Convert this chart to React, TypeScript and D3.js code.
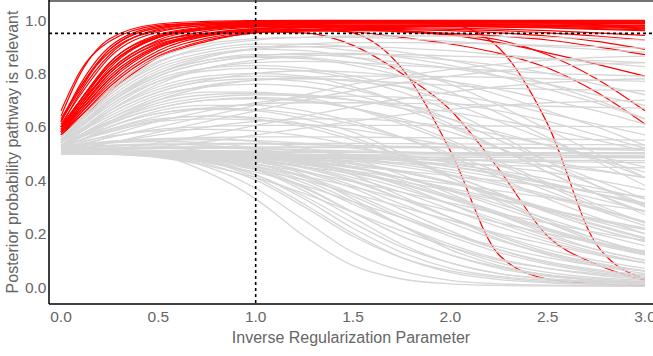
import React from "react";
import * as d3 from "d3";

const xValues = [0, 0.1, 0.25, 0.5, 0.75, 1, 1.25, 1.5, 1.75, 2, 2.25, 2.5, 2.75, 3];
const xTicks = [0, 0.5, 1, 1.5, 2, 2.5, 3];
const yTicks = [0, 0.2, 0.4, 0.6, 0.8, 1];
const xThreshold = 1;
const yThreshold = 0.95;

// pathways judged relevant (posterior > 0.95 at x = 1)
const relevantSeries = [
  [0.64, 0.8, 0.93, 0.985, 0.995, 0.998, 0.999, 0.999, 0.999, 0.999, 0.999, 0.999, 0.999, 0.999],
  [0.66, 0.81, 0.92, 0.98, 0.99, 0.995, 0.997, 0.998, 0.998, 0.998, 0.998, 0.998, 0.998, 0.998],
  [0.62, 0.76, 0.9, 0.975, 0.99, 0.995, 0.996, 0.997, 0.997, 0.997, 0.997, 0.997, 0.997, 0.997],
  [0.6, 0.73, 0.87, 0.965, 0.985, 0.99, 0.993, 0.994, 0.994, 0.994, 0.993, 0.993, 0.992, 0.992],
  [0.61, 0.72, 0.86, 0.955, 0.98, 0.988, 0.99, 0.99, 0.99, 0.99, 0.99, 0.99, 0.989, 0.988],
  [0.59, 0.7, 0.84, 0.945, 0.975, 0.985, 0.988, 0.99, 0.99, 0.99, 0.989, 0.988, 0.987, 0.985],
  [0.58, 0.68, 0.82, 0.935, 0.97, 0.982, 0.986, 0.988, 0.988, 0.987, 0.986, 0.985, 0.983, 0.98],
  [0.6, 0.69, 0.81, 0.925, 0.965, 0.978, 0.983, 0.985, 0.985, 0.984, 0.982, 0.98, 0.977, 0.974],
  [0.58, 0.67, 0.8, 0.915, 0.958, 0.973, 0.979, 0.981, 0.981, 0.98, 0.978, 0.975, 0.972, 0.968],
  [0.59, 0.67, 0.79, 0.905, 0.95, 0.968, 0.975, 0.978, 0.978, 0.977, 0.975, 0.972, 0.968, 0.963],
  [0.57, 0.65, 0.77, 0.895, 0.945, 0.965, 0.972, 0.975, 0.976, 0.975, 0.973, 0.97, 0.965, 0.96],
  [0.58, 0.65, 0.76, 0.885, 0.94, 0.962, 0.97, 0.972, 0.972, 0.97, 0.966, 0.96, 0.952, 0.942],
  [0.57, 0.64, 0.75, 0.875, 0.932, 0.956, 0.965, 0.968, 0.968, 0.965, 0.96, 0.952, 0.94, 0.925],
  [0.58, 0.64, 0.74, 0.865, 0.925, 0.952, 0.962, 0.965, 0.964, 0.96, 0.952, 0.94, 0.92, 0.89],
  [0.57, 0.63, 0.73, 0.86, 0.92, 0.953, 0.958, 0.96, 0.958, 0.95, 0.94, 0.925, 0.9, 0.87],
  [0.6, 0.7, 0.83, 0.94, 0.972, 0.985, 0.99, 0.992, 0.993, 0.993, 0.993, 0.993, 0.993, 0.993],
  [0.63, 0.75, 0.88, 0.96, 0.98, 0.988, 0.99, 0.991, 0.991, 0.99, 0.99, 0.989, 0.988, 0.986],
  [0.62, 0.74, 0.89, 0.97, 0.985, 0.99, 0.992, 0.993, 0.993, 0.993, 0.992, 0.991, 0.99, 0.989],
  [0.59, 0.69, 0.83, 0.935, 0.968, 0.98, 0.984, 0.985, 0.985, 0.984, 0.983, 0.982, 0.98, 0.978],
  [0.58, 0.66, 0.78, 0.9, 0.948, 0.967, 0.975, 0.978, 0.979, 0.979, 0.978, 0.976, 0.974, 0.971],
  [0.58, 0.66, 0.78, 0.9, 0.94, 0.955, 0.952, 0.905, 0.8, 0.663, 0.44, 0.19, 0.085, 0.025],
  [0.6, 0.7, 0.84, 0.94, 0.97, 0.98, 0.975, 0.952, 0.82, 0.51, 0.12, 0.03, 0.012, 0.006],
  [0.62, 0.75, 0.89, 0.97, 0.985, 0.99, 0.992, 0.992, 0.99, 0.983, 0.895, 0.61, 0.16, 0.03],
  [0.59, 0.68, 0.81, 0.92, 0.95, 0.962, 0.965, 0.965, 0.955, 0.945, 0.925, 0.87, 0.78, 0.66],
  [0.6, 0.7, 0.83, 0.935, 0.965, 0.975, 0.975, 0.97, 0.96, 0.944, 0.915, 0.877, 0.835, 0.79],
  [0.58, 0.67, 0.8, 0.91, 0.945, 0.958, 0.96, 0.955, 0.935, 0.91, 0.875, 0.82, 0.73, 0.61],
];

// all other pathways
const otherSeries = [
  // rise then plateau
  [0.55, 0.62, 0.72, 0.84, 0.9, 0.925, 0.935, 0.94, 0.94, 0.94, 0.938, 0.935, 0.93, 0.925],
  [0.56, 0.63, 0.74, 0.86, 0.91, 0.93, 0.935, 0.935, 0.93, 0.92, 0.91, 0.9, 0.89, 0.88],
  [0.54, 0.6, 0.69, 0.8, 0.86, 0.895, 0.91, 0.915, 0.915, 0.913, 0.91, 0.905, 0.9, 0.895],
  [0.53, 0.58, 0.66, 0.76, 0.82, 0.85, 0.865, 0.87, 0.87, 0.865, 0.86, 0.855, 0.848, 0.84],
  [0.54, 0.59, 0.67, 0.77, 0.82, 0.84, 0.845, 0.84, 0.83, 0.82, 0.81, 0.8, 0.795, 0.79],
  [0.52, 0.56, 0.62, 0.7, 0.75, 0.775, 0.785, 0.79, 0.79, 0.788, 0.785, 0.78, 0.775, 0.77],
  [0.53, 0.57, 0.63, 0.71, 0.755, 0.775, 0.78, 0.775, 0.765, 0.755, 0.745, 0.74, 0.738, 0.735],
  [0.52, 0.55, 0.59, 0.64, 0.67, 0.685, 0.69, 0.69, 0.688, 0.685, 0.68, 0.677, 0.673, 0.67],
  [0.51, 0.53, 0.56, 0.59, 0.6, 0.605, 0.605, 0.605, 0.605, 0.604, 0.603, 0.602, 0.601, 0.6],
  [0.55, 0.61, 0.7, 0.81, 0.865, 0.89, 0.9, 0.9, 0.895, 0.885, 0.87, 0.855, 0.84, 0.825],
  // slow rise
  [0.5, 0.505, 0.515, 0.54, 0.57, 0.605, 0.64, 0.675, 0.705, 0.73, 0.75, 0.765, 0.775, 0.78],
  [0.51, 0.52, 0.54, 0.58, 0.62, 0.66, 0.7, 0.735, 0.765, 0.79, 0.81, 0.825, 0.835, 0.84],
  [0.5, 0.505, 0.51, 0.525, 0.545, 0.57, 0.595, 0.62, 0.645, 0.665, 0.68, 0.69, 0.695, 0.7],
  [0.52, 0.535, 0.56, 0.6, 0.64, 0.68, 0.72, 0.76, 0.79, 0.815, 0.835, 0.85, 0.86, 0.865],
  // rise then fall
  [0.55, 0.61, 0.7, 0.8, 0.85, 0.865, 0.86, 0.84, 0.81, 0.77, 0.72, 0.66, 0.6, 0.53],
  [0.54, 0.6, 0.68, 0.78, 0.82, 0.83, 0.82, 0.79, 0.75, 0.69, 0.62, 0.55, 0.48, 0.41],
  [0.53, 0.58, 0.65, 0.73, 0.77, 0.78, 0.77, 0.74, 0.69, 0.63, 0.55, 0.47, 0.4, 0.33],
  [0.53, 0.57, 0.63, 0.7, 0.73, 0.73, 0.71, 0.67, 0.61, 0.54, 0.46, 0.38, 0.3, 0.24],
  [0.52, 0.55, 0.6, 0.65, 0.67, 0.665, 0.645, 0.61, 0.56, 0.5, 0.43, 0.36, 0.29, 0.23],
  [0.55, 0.62, 0.72, 0.83, 0.88, 0.9, 0.9, 0.885, 0.86, 0.83, 0.79, 0.74, 0.69, 0.63],
  [0.56, 0.63, 0.73, 0.845, 0.89, 0.91, 0.91, 0.9, 0.88, 0.85, 0.81, 0.76, 0.7, 0.63],
  [0.54, 0.6, 0.69, 0.79, 0.84, 0.86, 0.855, 0.83, 0.79, 0.73, 0.65, 0.56, 0.47, 0.38],
  [0.52, 0.56, 0.61, 0.67, 0.7, 0.705, 0.695, 0.67, 0.63, 0.58, 0.52, 0.45, 0.38, 0.31],
  [0.53, 0.58, 0.64, 0.72, 0.75, 0.76, 0.75, 0.72, 0.67, 0.6, 0.52, 0.43, 0.35, 0.27],
  [0.52, 0.55, 0.59, 0.63, 0.64, 0.63, 0.6, 0.55, 0.49, 0.42, 0.35, 0.28, 0.22, 0.17],
  [0.54, 0.59, 0.66, 0.74, 0.78, 0.79, 0.785, 0.77, 0.75, 0.72, 0.69, 0.65, 0.61, 0.57],
  [0.55, 0.61, 0.7, 0.8, 0.85, 0.87, 0.87, 0.86, 0.84, 0.82, 0.79, 0.76, 0.72, 0.68],
  [0.53, 0.57, 0.62, 0.68, 0.71, 0.72, 0.715, 0.7, 0.68, 0.655, 0.625, 0.59, 0.55, 0.51],
  [0.52, 0.56, 0.6, 0.66, 0.68, 0.68, 0.66, 0.62, 0.56, 0.49, 0.41, 0.33, 0.26, 0.2],
  [0.56, 0.62, 0.71, 0.82, 0.87, 0.89, 0.885, 0.86, 0.82, 0.76, 0.68, 0.59, 0.5, 0.41],
  [0.54, 0.59, 0.66, 0.75, 0.79, 0.8, 0.79, 0.75, 0.69, 0.61, 0.52, 0.43, 0.35, 0.28],
  [0.53, 0.57, 0.62, 0.69, 0.72, 0.725, 0.72, 0.7, 0.67, 0.63, 0.58, 0.53, 0.48, 0.43],
  [0.55, 0.6, 0.68, 0.77, 0.81, 0.82, 0.81, 0.78, 0.73, 0.66, 0.57, 0.47, 0.38, 0.3],
  [0.52, 0.55, 0.58, 0.62, 0.63, 0.625, 0.61, 0.59, 0.56, 0.53, 0.5, 0.47, 0.44, 0.41],
  [0.51, 0.52, 0.54, 0.57, 0.6, 0.62, 0.63, 0.63, 0.62, 0.6, 0.57, 0.53, 0.49, 0.45],
  [0.52, 0.54, 0.57, 0.62, 0.66, 0.69, 0.71, 0.715, 0.71, 0.69, 0.66, 0.62, 0.57, 0.52],
  [0.54, 0.585, 0.65, 0.73, 0.775, 0.8, 0.81, 0.805, 0.79, 0.77, 0.74, 0.7, 0.66, 0.61],
  [0.55, 0.61, 0.69, 0.79, 0.84, 0.865, 0.875, 0.875, 0.865, 0.85, 0.83, 0.8, 0.76, 0.72],
  [0.53, 0.565, 0.615, 0.67, 0.7, 0.71, 0.7, 0.67, 0.62, 0.55, 0.47, 0.39, 0.31, 0.24],
  [0.52, 0.55, 0.585, 0.625, 0.64, 0.635, 0.61, 0.56, 0.49, 0.41, 0.33, 0.25, 0.18, 0.13],
  [0.53, 0.56, 0.6, 0.65, 0.665, 0.66, 0.63, 0.58, 0.5, 0.41, 0.32, 0.24, 0.17, 0.12],
  // near the prior
  [0.52, 0.525, 0.53, 0.535, 0.537, 0.538, 0.538, 0.538, 0.537, 0.536, 0.535, 0.534, 0.533, 0.532],
  [0.51, 0.512, 0.515, 0.518, 0.52, 0.521, 0.522, 0.522, 0.522, 0.521, 0.52, 0.519, 0.518, 0.517],
  [0.5, 0.5, 0.5, 0.5, 0.499, 0.498, 0.497, 0.496, 0.495, 0.494, 0.493, 0.492, 0.491, 0.49],
  [0.505, 0.506, 0.507, 0.508, 0.508, 0.507, 0.506, 0.505, 0.504, 0.503, 0.502, 0.501, 0.5, 0.499],
  [0.5, 0.5, 0.499, 0.497, 0.494, 0.49, 0.486, 0.482, 0.478, 0.475, 0.472, 0.47, 0.468, 0.466],
  [0.515, 0.52, 0.526, 0.532, 0.535, 0.535, 0.533, 0.53, 0.527, 0.524, 0.521, 0.518, 0.515, 0.512],
  [0.5, 0.5, 0.498, 0.494, 0.488, 0.482, 0.476, 0.47, 0.465, 0.46, 0.456, 0.452, 0.449, 0.446],
  [0.51, 0.513, 0.517, 0.52, 0.52, 0.518, 0.514, 0.51, 0.506, 0.502, 0.498, 0.495, 0.492, 0.49],
  [0.525, 0.535, 0.545, 0.555, 0.56, 0.562, 0.562, 0.561, 0.56, 0.558, 0.556, 0.554, 0.552, 0.55],
  [0.5, 0.5, 0.5, 0.498, 0.495, 0.492, 0.49, 0.488, 0.487, 0.486, 0.486, 0.485, 0.485, 0.484],
  [0.505, 0.507, 0.509, 0.511, 0.511, 0.51, 0.508, 0.505, 0.502, 0.499, 0.496, 0.493, 0.49, 0.487],
  [0.5, 0.501, 0.502, 0.503, 0.503, 0.503, 0.503, 0.503, 0.503, 0.503, 0.503, 0.503, 0.503, 0.503],
  [0.51, 0.514, 0.518, 0.522, 0.524, 0.525, 0.525, 0.525, 0.524, 0.523, 0.522, 0.521, 0.52, 0.519],
  [0.5, 0.5, 0.499, 0.496, 0.492, 0.488, 0.484, 0.481, 0.479, 0.477, 0.476, 0.475, 0.474, 0.473],
  // flat then decline
  [0.5, 0.5, 0.5, 0.49, 0.43, 0.33, 0.19, 0.08, 0.03, 0.012, 0.006, 0.004, 0.003, 0.002],
  [0.5, 0.5, 0.5, 0.49, 0.45, 0.37, 0.25, 0.13, 0.06, 0.025, 0.012, 0.007, 0.005, 0.004],
  [0.5, 0.5, 0.5, 0.495, 0.47, 0.41, 0.31, 0.2, 0.11, 0.055, 0.028, 0.016, 0.01, 0.008],
  [0.5, 0.5, 0.5, 0.497, 0.48, 0.44, 0.36, 0.26, 0.16, 0.09, 0.05, 0.03, 0.02, 0.015],
  [0.5, 0.5, 0.5, 0.498, 0.485, 0.455, 0.4, 0.32, 0.23, 0.15, 0.09, 0.055, 0.035, 0.025],
  [0.5, 0.5, 0.5, 0.498, 0.49, 0.47, 0.43, 0.37, 0.29, 0.21, 0.14, 0.09, 0.06, 0.04],
  [0.5, 0.5, 0.5, 0.499, 0.493, 0.478, 0.45, 0.4, 0.33, 0.26, 0.19, 0.13, 0.09, 0.06],
  [0.5, 0.5, 0.5, 0.499, 0.495, 0.485, 0.465, 0.43, 0.38, 0.31, 0.24, 0.18, 0.13, 0.09],
  [0.5, 0.5, 0.5, 0.5, 0.497, 0.49, 0.475, 0.45, 0.41, 0.36, 0.3, 0.24, 0.18, 0.13],
  [0.5, 0.5, 0.5, 0.5, 0.498, 0.493, 0.483, 0.465, 0.435, 0.395, 0.345, 0.29, 0.235, 0.185],
  [0.5, 0.5, 0.5, 0.5, 0.499, 0.496, 0.49, 0.478, 0.458, 0.43, 0.39, 0.345, 0.295, 0.245],
  [0.5, 0.5, 0.5, 0.5, 0.499, 0.497, 0.493, 0.485, 0.472, 0.452, 0.425, 0.39, 0.35, 0.305],
  [0.5, 0.5, 0.5, 0.5, 0.5, 0.498, 0.495, 0.49, 0.482, 0.47, 0.452, 0.43, 0.4, 0.365],
  [0.5, 0.5, 0.5, 0.5, 0.5, 0.499, 0.497, 0.494, 0.489, 0.481, 0.47, 0.455, 0.435, 0.41],
  [0.5, 0.5, 0.498, 0.49, 0.47, 0.44, 0.4, 0.35, 0.3, 0.25, 0.2, 0.16, 0.12, 0.09],
  [0.5, 0.5, 0.498, 0.488, 0.465, 0.43, 0.38, 0.32, 0.26, 0.2, 0.15, 0.11, 0.08, 0.06],
  [0.5, 0.5, 0.497, 0.485, 0.455, 0.41, 0.35, 0.28, 0.21, 0.15, 0.1, 0.07, 0.05, 0.035],
  [0.5, 0.5, 0.499, 0.492, 0.475, 0.45, 0.415, 0.375, 0.33, 0.285, 0.24, 0.2, 0.165, 0.135],
  [0.5, 0.5, 0.499, 0.494, 0.48, 0.46, 0.43, 0.395, 0.355, 0.315, 0.275, 0.24, 0.205, 0.175],
  [0.5, 0.5, 0.499, 0.495, 0.485, 0.47, 0.45, 0.425, 0.395, 0.36, 0.325, 0.29, 0.255, 0.22],
  [0.5, 0.5, 0.5, 0.496, 0.488, 0.475, 0.457, 0.435, 0.41, 0.385, 0.36, 0.335, 0.31, 0.285],
  [0.5, 0.5, 0.5, 0.497, 0.49, 0.48, 0.467, 0.452, 0.435, 0.417, 0.398, 0.378, 0.358, 0.338],
  [0.5, 0.5, 0.499, 0.49, 0.46, 0.4, 0.3, 0.19, 0.11, 0.06, 0.035, 0.02, 0.013, 0.01],
  [0.5, 0.5, 0.499, 0.493, 0.47, 0.42, 0.34, 0.24, 0.15, 0.09, 0.05, 0.03, 0.02, 0.015],
  [0.5, 0.5, 0.5, 0.495, 0.478, 0.44, 0.37, 0.28, 0.19, 0.12, 0.075, 0.045, 0.03, 0.02],
  [0.5, 0.5, 0.5, 0.496, 0.482, 0.45, 0.39, 0.31, 0.23, 0.16, 0.105, 0.07, 0.045, 0.03],
  [0.5, 0.5, 0.5, 0.497, 0.487, 0.462, 0.415, 0.35, 0.27, 0.2, 0.14, 0.095, 0.065, 0.045],
  [0.5, 0.5, 0.5, 0.498, 0.49, 0.47, 0.435, 0.38, 0.31, 0.24, 0.175, 0.125, 0.085, 0.06],
  [0.5, 0.5, 0.5, 0.498, 0.492, 0.477, 0.45, 0.41, 0.355, 0.29, 0.225, 0.17, 0.125, 0.09],
  [0.5, 0.5, 0.5, 0.499, 0.494, 0.483, 0.462, 0.43, 0.385, 0.33, 0.27, 0.21, 0.16, 0.12],
  [0.5, 0.5, 0.5, 0.499, 0.496, 0.488, 0.472, 0.447, 0.41, 0.365, 0.31, 0.255, 0.2, 0.155],
  [0.5, 0.5, 0.5, 0.5, 0.497, 0.491, 0.48, 0.46, 0.43, 0.39, 0.345, 0.295, 0.245, 0.2],
  [0.5, 0.5, 0.5, 0.5, 0.498, 0.494, 0.486, 0.472, 0.45, 0.42, 0.382, 0.338, 0.29, 0.245],
  [0.5, 0.5, 0.5, 0.5, 0.499, 0.496, 0.49, 0.48, 0.464, 0.44, 0.41, 0.373, 0.33, 0.285],
  [0.5, 0.5, 0.5, 0.5, 0.499, 0.497, 0.493, 0.486, 0.475, 0.458, 0.435, 0.405, 0.37, 0.33],
  [0.5, 0.5, 0.5, 0.496, 0.475, 0.42, 0.33, 0.22, 0.13, 0.07, 0.04, 0.025, 0.017, 0.012],
  [0.5, 0.5, 0.5, 0.497, 0.483, 0.445, 0.375, 0.28, 0.19, 0.12, 0.07, 0.04, 0.025, 0.018],
  [0.5, 0.5, 0.5, 0.498, 0.487, 0.46, 0.41, 0.34, 0.26, 0.19, 0.13, 0.085, 0.055, 0.035],
  [0.5, 0.5, 0.5, 0.499, 0.493, 0.476, 0.445, 0.395, 0.33, 0.26, 0.195, 0.14, 0.1, 0.07],
  [0.5, 0.5, 0.5, 0.5, 0.496, 0.487, 0.468, 0.435, 0.39, 0.335, 0.275, 0.215, 0.165, 0.125],
  [0.5, 0.5, 0.5, 0.5, 0.498, 0.492, 0.48, 0.46, 0.43, 0.39, 0.34, 0.285, 0.23, 0.18],
  [0.505, 0.507, 0.508, 0.507, 0.5, 0.485, 0.46, 0.42, 0.37, 0.31, 0.25, 0.19, 0.14, 0.1],
  [0.5, 0.5, 0.5, 0.499, 0.495, 0.486, 0.47, 0.445, 0.41, 0.37, 0.33, 0.29, 0.25, 0.215],
  [0.51, 0.515, 0.52, 0.52, 0.51, 0.48, 0.42, 0.33, 0.23, 0.14, 0.08, 0.045, 0.025, 0.015],
  [0.52, 0.53, 0.54, 0.545, 0.54, 0.52, 0.48, 0.42, 0.34, 0.26, 0.18, 0.12, 0.08, 0.05],
  [0.515, 0.52, 0.53, 0.535, 0.53, 0.515, 0.49, 0.45, 0.4, 0.34, 0.28, 0.22, 0.17, 0.13],
  [0.52, 0.53, 0.545, 0.555, 0.555, 0.545, 0.52, 0.48, 0.42, 0.35, 0.27, 0.2, 0.14, 0.1],
  [0.53, 0.545, 0.565, 0.585, 0.59, 0.585, 0.565, 0.53, 0.48, 0.42, 0.35, 0.28, 0.22, 0.17],
  [0.51, 0.515, 0.52, 0.525, 0.525, 0.52, 0.51, 0.495, 0.475, 0.45, 0.42, 0.385, 0.35, 0.315],
  [0.52, 0.53, 0.54, 0.55, 0.552, 0.548, 0.538, 0.52, 0.495, 0.465, 0.43, 0.39, 0.35, 0.31],
];

const W = 653;
const H = 356;
const panel = { left: 49, right: 653, top: 0, bottom: 304 };

export default function App() {
  const x = d3.scaleLinear().domain([0, 3]).range([61, 645]);
  const y = d3.scaleLinear().domain([0, 1]).range([287, 20]);
  const line = d3
    .line<number>()
    .x((_, i) => x(xValues[i]))
    .y((d) => y(d))
    .curve(d3.curveMonotoneX);
  const font = "Liberation Sans, Arial, Helvetica, sans-serif";

  return (
    <svg
      width={W}
      height={H}
      style={{ position: "absolute", left: 0, top: 0, background: "#fff" }}
      fontFamily={font}
    >
      <defs>
        <clipPath id="pc">
          <rect x={panel.left} y={panel.top} width={panel.right - panel.left} height={panel.bottom - panel.top} />
        </clipPath>
      </defs>
      <g clipPath="url(#pc)">
        {relevantSeries.map((s, i) => (
          <path key={"r" + i} d={line(s) || ""} fill="none" stroke="#ff0000" strokeWidth={1.2} />
        ))}
        {otherSeries.map((s, i) => (
          <path key={"g" + i} d={line(s) || ""} fill="none" stroke="#d6d6d6" strokeWidth={1.3} />
        ))}
        <line
          x1={panel.left}
          x2={panel.right}
          y1={y(yThreshold)}
          y2={y(yThreshold)}
          stroke="#000"
          strokeWidth={1.6}
          strokeDasharray="3,3"
        />
        <line
          x1={x(xThreshold)}
          x2={x(xThreshold)}
          y1={panel.top}
          y2={panel.bottom}
          stroke="#000"
          strokeWidth={1.6}
          strokeDasharray="3,3"
        />
      </g>
      {/* panel frame */}
      <line x1={panel.left} x2={panel.right} y1={1} y2={1} stroke="#444" strokeWidth={1.5} />
      <line x1={panel.left} x2={panel.left} y1={0} y2={panel.bottom} stroke="#000" strokeWidth={1.5} />
      <line x1={panel.left} x2={panel.right} y1={panel.bottom} y2={panel.bottom} stroke="#000" strokeWidth={1.5} />
      {xTicks.map((t) => (
        <text key={"xt" + t} x={x(t)} y={322} textAnchor="middle" fontSize={15.5} fill="#666">
          {t.toFixed(1)}
        </text>
      ))}
      {yTicks.map((t) => (
        <text key={"yt" + t} x={46.5} y={y(t)} dy="0.36em" textAnchor="end" fontSize={15.5} fill="#666">
          {t.toFixed(1)}
        </text>
      ))}
      <text x={(panel.left + panel.right) / 2} y={343} textAnchor="middle" fontSize={16} fill="#666">
        Inverse Regularization Parameter
      </text>
      <text
        transform={`translate(18, ${(panel.top + panel.bottom) / 2}) rotate(-90)`}
        textAnchor="middle"
        fontSize={16}
        fill="#666"
      >
        Posterior probability pathway is relevant
      </text>
    </svg>
  );
}
